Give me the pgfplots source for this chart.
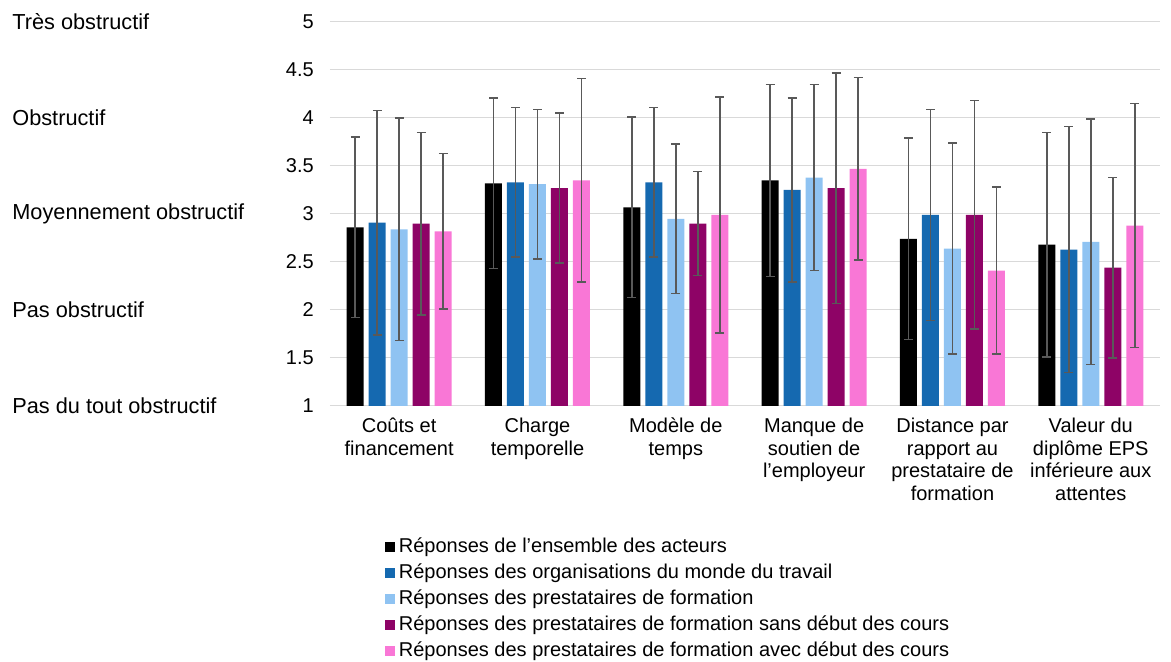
\documentclass[border=0pt]{standalone}
\usepackage{fontspec}
\setmainfont{Liberation Sans}
\usepackage{pgfplots}
\pgfplotsset{compat=1.18}

\definecolor{cAll}{HTML}{000000}
\definecolor{cOrg}{HTML}{1569B0}
\definecolor{cPrest}{HTML}{8FC3F2}
\definecolor{cSans}{HTML}{8E0366}
\definecolor{cAvec}{HTML}{F977D6}
\definecolor{cGrid}{HTML}{D9D9D9}
\definecolor{cErr}{HTML}{595959}

\begin{document}
\begin{tikzpicture}
\begin{axis}[
    width=622.5pt, height=288pt, scale only axis,
    clip=false,
    xmin=-0.5, xmax=5.5,
    ymin=1, ymax=5,
    ybar=3.75pt, bar width=12.75pt,
    xtick={0,1,2,3,4,5},
    xticklabels={{Coûts et\\financement},{Charge\\temporelle},{Modèle de\\temps},
        {Manque de\\soutien de\\l’employeur},{Distance par\\rapport au\\prestataire de\\formation},
        {Valeur du\\diplôme EPS\\inférieure aux\\attentes}},
    xticklabel style={anchor=north, inner sep=0pt, yshift=-9pt, align=center,
        font=\fontsize{15}{16.9}\selectfont},
    ytick={1,1.5,2,2.5,3,3.5,4,4.5,5},
    yticklabel style={anchor=east, inner sep=0pt, xshift=-12pt,
        font=\fontsize{15}{18}\selectfont,
        /pgf/number format/fixed, /pgf/number format/precision=1},
    /pgf/number format/assume math mode=true,
    major tick length=0pt,
    ymajorgrids=true,
    grid style={cGrid, line width=0.75pt},
    axis line style={draw=none},
    error bars/y dir=both,
    error bars/y explicit,
    error bars/error bar style={cErr, line width=1.1pt},
    error bars/error mark options={rotate=90, cErr, mark size=3.3pt, line width=1.1pt},
    legend image code/.code={\fill[#1] (0pt,-3.6pt) rectangle (7.2pt,3.6pt);},
    legend cell align=left,
    legend style={at={(0.0663,-0.339)}, anchor=north west, draw=none, fill=none,
        inner sep=0pt, row sep=3.5pt,
        font=\fontsize{15}{18}\selectfont,
        nodes={inner sep=0pt, text height=12pt, text depth=4pt},
        /tikz/every odd column/.append style={column sep=3pt}},
]
\addplot[fill=cAll, draw=none] coordinates {
    (0,2.86) +- (0,0.94) (1,3.32) +- (0,0.89) (2,3.07) +- (0,0.94)
    (3,3.35) +- (0,1.00) (4,2.74) +- (0,1.05) (5,2.68) +- (0,1.17)
};
\addlegendentry{Réponses de l’ensemble des acteurs}
\addplot[fill=cOrg, draw=none] coordinates {
    (0,2.91) +- (0,1.17) (1,3.33) +- (0,0.78) (2,3.33) +- (0,0.78)
    (3,3.25) +- (0,0.96) (4,2.99) +- (0,1.10) (5,2.63) +- (0,1.28)
};
\addlegendentry{Réponses des organisations du monde du travail}
\addplot[fill=cPrest, draw=none] coordinates {
    (0,2.84) +- (0,1.16) (1,3.31) +- (0,0.78) (2,2.95) +- (0,0.78)
    (3,3.38) +- (0,0.97) (4,2.64) +- (0,1.10) (5,2.71) +- (0,1.28)
};
\addlegendentry{Réponses des prestataires de formation}
\addplot[fill=cSans, draw=none] coordinates {
    (0,2.90) +- (0,0.95) (1,3.27) +- (0,0.78) (2,2.90) +- (0,0.54)
    (3,3.27) +- (0,1.20) (4,2.99) +- (0,1.19) (5,2.44) +- (0,0.94)
};
\addlegendentry{Réponses des prestataires de formation sans début des cours}
\addplot[fill=cAvec, draw=none] coordinates {
    (0,2.82) +- (0,0.81) (1,3.35) +- (0,1.06) (2,2.99) +- (0,1.23)
    (3,3.47) +- (0,0.95) (4,2.41) +- (0,0.87) (5,2.88) +- (0,1.27)
};
\addlegendentry{Réponses des prestataires de formation avec début des cours}

% verbal scale on the left
\begin{scope}[every node/.style={anchor=west, inner sep=0pt, font=\fontsize{16.3}{19}\selectfont}]
\node at (axis description cs:-0.383,1.00) {Très obstructif};
\node at (axis description cs:-0.383,0.75) {Obstructif};
\node at (axis description cs:-0.383,0.50) {Moyennement obstructif};
\node at (axis description cs:-0.383,0.25) {Pas obstructif};
\node at (axis description cs:-0.383,0.00) {Pas du tout obstructif};
\end{scope}

% page frame with the reference's margins
\path (axis description cs:-0.3976,-0.6615) rectangle (axis description cs:1.0133,1.0573);
\end{axis}
\end{tikzpicture}
\end{document}
